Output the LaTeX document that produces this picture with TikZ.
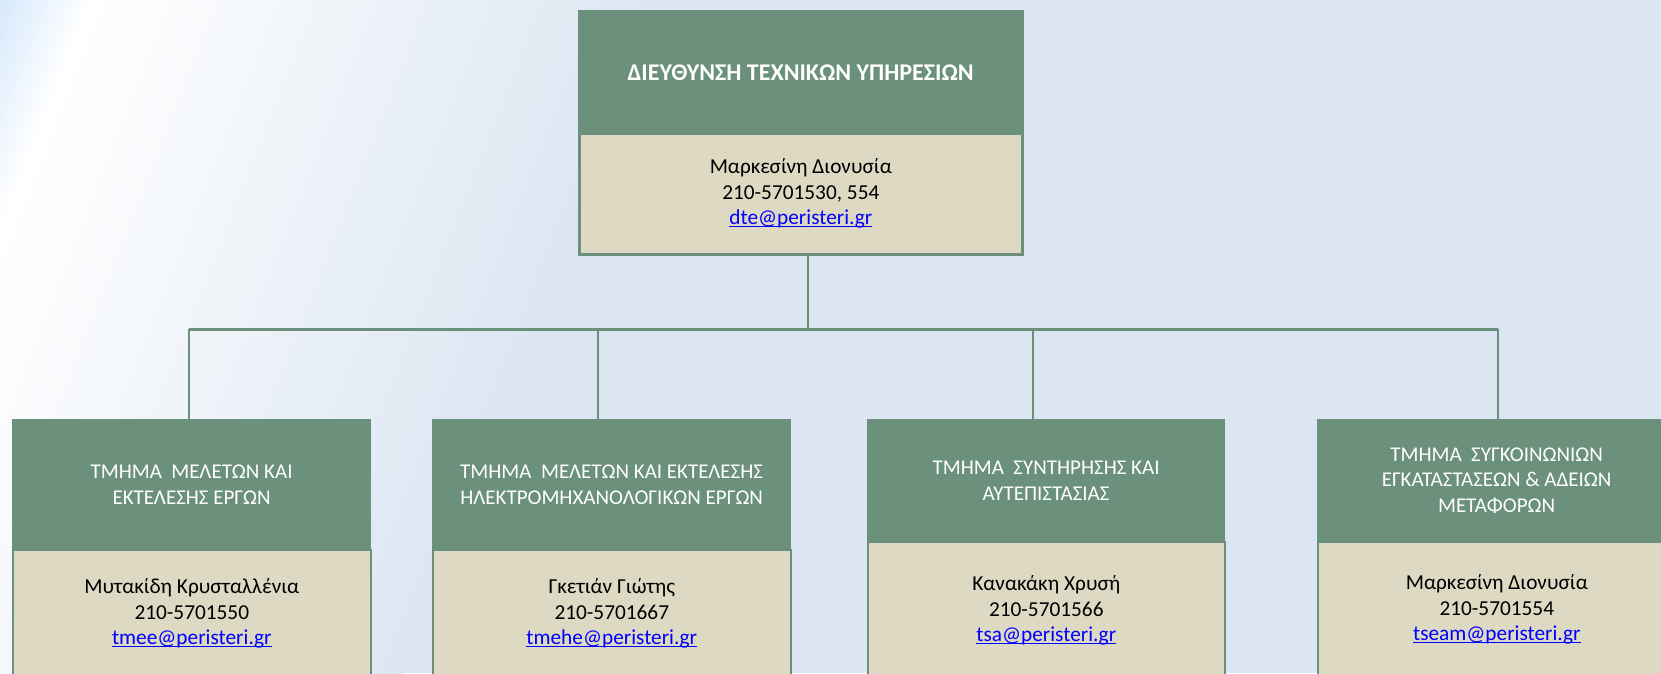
\documentclass[tikz,border=0pt]{standalone}
\usepackage{fontspec}
\setmainfont{Carlito}
\definecolor{hdr}{HTML}{6B917D}
\definecolor{bodyc}{HTML}{DDD9C3}
\definecolor{bgc}{HTML}{DCE6F2}
\definecolor{cornerc}{HTML}{D6E8FC}
\definecolor{mailc}{HTML}{0000FF}
\newcommand\mymail[1]{\textcolor{mailc}{\setbox0\hbox{#1}\rlap{\rule[-2.4pt]{\wd0}{1.3pt}}\box0}}
\tikzset{
  hdrbox/.style={rectangle, fill=hdr, draw=hdr, line width=1.2pt, inner sep=0pt, anchor=north west,
    text=white, align=center, font=\fontsize{21}{25.5}\selectfont},
  bodybox/.style={rectangle, fill=bodyc, draw=hdr, line width=1.6pt, inner sep=0pt, anchor=north west,
    text=black, align=center, font=\fontsize{21.3}{25.5}\selectfont},
  conn/.style={draw=hdr, line width=2pt},
  hline/.style={draw=hdr, line width=3pt},
}
\begin{document}
\begin{tikzpicture}[x=1pt, y=-1pt]
\useasboundingbox (0,0) rectangle (1661,673);
\clip (0,0) rectangle (1661,673);
% background
\fill[bgc] (0,0) rectangle (1661,673);
\begin{scope}[transform canvas={rotate=-21.4}]
  \shade[left color=cornerc, right color=white] (0,-700) rectangle (84.5,800);
  \shade[left color=white, right color=bgc] (84,-700) rectangle (620,800);
\end{scope}

% top box
\node[hdrbox, minimum width=442, minimum height=122, font=\bfseries\fontsize{24}{28}\selectfont] (th) at (579,11)
  {ΔΙΕΥΘΥΝΣΗ ΤΕΧΝΙΚΩΝ ΥΠΗΡΕΣΙΩΝ};
\node[bodybox, minimum width=442, minimum height=120] (tb) at (579,133)
  {Μαρκεσίνη Διονυσία\\210-5701530, 554\\\mymail{dte@peristeri.gr}};
\draw[hdr, line width=2.6pt] (th.north west) rectangle (tb.south east);

% bottom boxes
\node[hdrbox, minimum width=358, minimum height=130] (h1) at (12,419)
  {ΤΜΗΜΑ~ ΜΕΛΕΤΩΝ ΚΑΙ\\ΕΚΤΕΛΕΣΗΣ ΕΡΓΩΝ};
\node[bodybox, minimum width=358, minimum height=128] (b1) at (12,549)
  {Μυτακίδη Κρυσταλλένια\\210-5701550\\\mymail{tmee@peristeri.gr}};

\node[hdrbox, minimum width=358, minimum height=130] (h2) at (432,419)
  {ΤΜΗΜΑ~ ΜΕΛΕΤΩΝ ΚΑΙ ΕΚΤΕΛΕΣΗΣ\\ΗΛΕΚΤΡΟΜΗΧΑΝΟΛΟΓΙΚΩΝ ΕΡΓΩΝ};
\node[bodybox, minimum width=358, minimum height=128] (b2) at (432,549)
  {Γκετιάν Γιώτης\\210-5701667\\\mymail{tmehe@peristeri.gr}};

\node[hdrbox, minimum width=357, minimum height=122] (h3) at (867,419)
  {ΤΜΗΜΑ~ ΣΥΝΤΗΡΗΣΗΣ ΚΑΙ\\ΑΥΤΕΠΙΣΤΑΣΙΑΣ};
\node[bodybox, minimum width=357, minimum height=138] (b3) at (867,541)
  {Κανακάκη Χρυσή\\210-5701566\\\mymail{tsa@peristeri.gr}};

\node[hdrbox, minimum width=358, minimum height=122] (h4) at (1317,419)
  {ΤΜΗΜΑ~ ΣΥΓΚΟΙΝΩΝΙΩΝ\\ΕΓΚΑΤΑΣΤΑΣΕΩΝ \& ΑΔΕΙΩΝ\\ΜΕΤΑΦΟΡΩΝ};
\node[bodybox, minimum width=358, minimum height=136] (b4) at (1317,541)
  {Μαρκεσίνη Διονυσία\\210-5701554\\\mymail{tseam@peristeri.gr}};

% connectors
\coordinate (jt) at (808,329);
\coordinate (j1) at (188.6,329);
\coordinate (j2) at (597.7,329);
\coordinate (j3) at (1033,329);
\coordinate (j4) at (1498,329);
\draw[conn] (jt |- tb.south) -- (jt);
\draw[hline] (j1) -- (j4);
\draw[conn] (j1) -- (j1 |- h1.north);
\draw[conn] (j2) -- (j2 |- h2.north);
\draw[conn] (j3) -- (j3 |- h3.north);
\draw[conn] (j4) -- (j4 |- h4.north);
\end{tikzpicture}
\end{document}
